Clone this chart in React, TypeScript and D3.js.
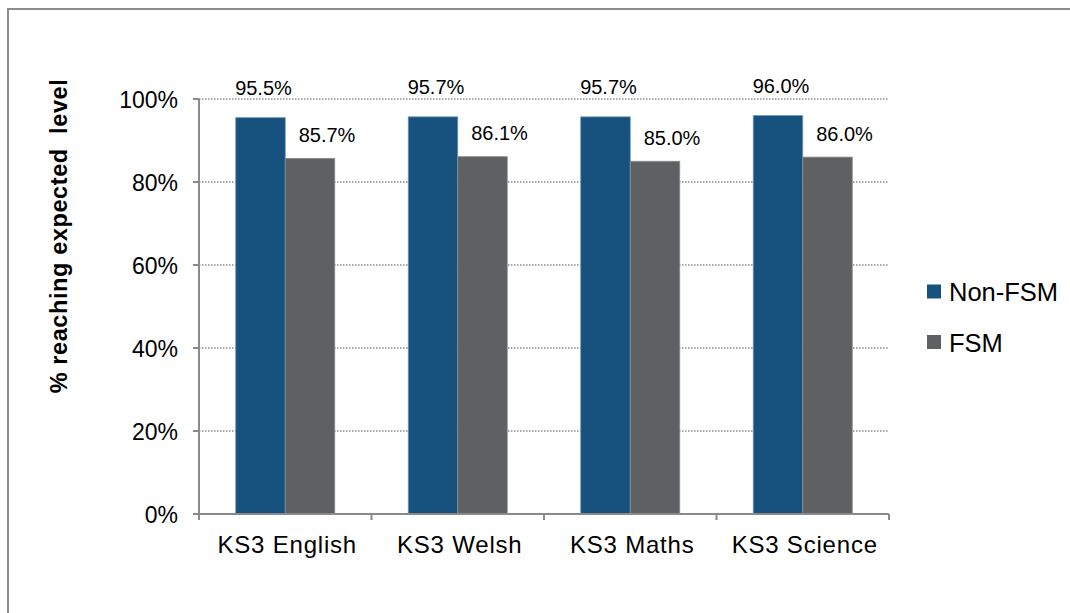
import React from 'react'
import * as d3 from 'd3'

// chart data
const categories = ['KS3 English', 'KS3 Welsh', 'KS3 Maths', 'KS3 Science']
const seriesNames = ['Non-FSM', 'FSM']
const nonFsm = [95.5, 95.7, 95.7, 96.0]
const fsm = [85.7, 86.1, 85.0, 86.0]
const yTicks = [0, 20, 40, 60, 80, 100]

const colors = ['#17517e', '#5f6062']
const edge = ['#6f97ba', '#8c8d8f']
const labelShift = [3, 17]
const labelGap = [23, 16.5]

const App = () => {
    const w = 1070
    const h = 613
    const left = 199
    const right = 889
    const top = 99
    const bottom = 514

    // scales
    const x0 = d3.scaleBand().domain(categories).range([left, right]).padding(0)
    const x1 = d3.scaleBand().domain(seriesNames).range([0, x0.bandwidth()]).paddingOuter(0.742).paddingInner(0)
    const y = d3.scaleLinear().domain([0, 100]).range([bottom, top])

    const values = [nonFsm, fsm]
    const font = 'Arial, "Liberation Sans", sans-serif'
    const axisColor = '#8a8a8a'

    return (
        <div style={{ position: 'absolute', left: 0, top: 0 }}>
            <svg width={w} height={h} style={{ display: 'block', background: '#fff' }} fontFamily={font}>
                {/* outer frame */}
                <rect x={8} y={9} width={1100} height={640} fill="none" stroke="#8c8c8c" strokeWidth={2} />

                {/* gridlines */}
                {yTicks.filter(t => t > 0).map(t => (
                    <line key={'g' + t} x1={left} x2={right} y1={y(t)} y2={y(t)}
                        stroke="#8a8a8a" strokeWidth={1.5} strokeDasharray="1.5,1.5" />
                ))}

                {/* bars */}
                {categories.map((c, i) => (
                    <g key={c} transform={`translate(${x0(c)},0)`}>
                        {seriesNames.map((s, j) => (
                            <rect key={s} x={x1(s)} y={y(values[j][i])} width={x1.bandwidth()}
                                height={y(0) - y(values[j][i])} fill={colors[j]}
                                stroke={edge[j]} strokeWidth={0.8} />
                        ))}
                        {seriesNames.map((s, j) => (
                            <text key={'l' + s} x={(x1(s) as number) + x1.bandwidth() / 2 + labelShift[j]}
                                y={y(values[j][i]) - labelGap[j]} textAnchor="middle" fontSize={20} fill="#000">
                                {values[j][i].toFixed(1) + '%'}
                            </text>
                        ))}
                    </g>
                ))}

                {/* y axis */}
                <line x1={left} x2={left} y1={top} y2={bottom} stroke={axisColor} strokeWidth={2} />
                {yTicks.map(t => (
                    <g key={'t' + t}>
                        <line x1={left - 6} x2={left} y1={y(t)} y2={y(t)} stroke={axisColor} strokeWidth={2} />
                        <text x={178} y={y(t) + 8.5} textAnchor="end" fontSize={23} fill="#000">{t + '%'}</text>
                    </g>
                ))}

                {/* x axis */}
                <line x1={left - 6} x2={right} y1={bottom} y2={bottom} stroke={axisColor} strokeWidth={2} />
                {categories.map((c, i) => (
                    <line key={'xt' + c} x1={x0(c)} x2={x0(c)} y1={bottom} y2={bottom + 6} stroke={axisColor} strokeWidth={2} />
                ))}
                <line x1={right} x2={right} y1={bottom} y2={bottom + 6} stroke={axisColor} strokeWidth={2} />
                {categories.map(c => (
                    <text key={'xl' + c} x={(x0(c) as number) + x0.bandwidth() / 2 + 2} y={bottom + 39}
                        textAnchor="middle" fontSize={24} letterSpacing={0.8} fill="#000">{c}</text>
                ))}

                {/* axis title */}
                <text transform={`translate(67,${236}) rotate(-90)`} textAnchor="middle" fontSize={23.5}
                    fontWeight="bold" letterSpacing={0.6} fill="#000" xmlSpace="preserve">
                    {'% reaching expected  level'}
                </text>

                {/* legend */}
                {seriesNames.map((s, j) => (
                    <g key={'lg' + s} transform={`translate(927,${291.5 + j * 50.5})`}>
                        <rect x={0} y={-7} width={14} height={14} fill={colors[j]} />
                        <text x={22} y={9.5} fontSize={25.5} fill="#000">{s}</text>
                    </g>
                ))}
            </svg>
        </div>
    )
}

export default App
